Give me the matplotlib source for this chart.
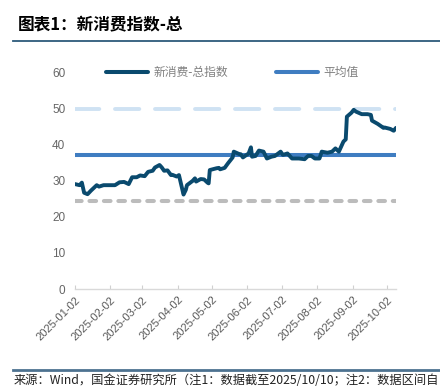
import matplotlib
matplotlib.use("Agg")
import matplotlib.pyplot as plt
import pandas as pd
from matplotlib.lines import Line2D

plt.rcParams['font.family'] = ['Noto Sans CJK SC', 'DejaVu Sans']
plt.rcParams['lines.scale_dashes'] = False

# ---- data ----
dates = ["2025-01-02", "2025-01-06", "2025-01-08", "2025-01-10", "2025-01-13", "2025-01-16",
         "2025-01-21", "2025-01-23", "2025-01-27", "2025-02-06", "2025-02-10", "2025-02-14",
         "2025-02-18", "2025-02-21", "2025-02-25", "2025-02-28", "2025-03-04", "2025-03-07",
         "2025-03-11", "2025-03-13", "2025-03-17", "2025-03-19", "2025-03-21", "2025-03-24",
         "2025-03-27", "2025-03-28", "2025-04-01", "2025-04-03", "2025-04-07", "2025-04-09",
         "2025-04-10", "2025-04-15", "2025-04-17", "2025-04-18", "2025-04-22", "2025-04-25",
         "2025-04-28", "2025-04-29", "2025-04-30", "2025-05-06", "2025-05-08", "2025-05-09",
         "2025-05-13", "2025-05-16", "2025-05-20", "2025-05-21", "2025-05-26", "2025-05-27",
         "2025-05-29", "2025-06-03", "2025-06-05", "2025-06-06", "2025-06-09", "2025-06-12",
         "2025-06-16", "2025-06-19", "2025-06-23", "2025-06-26", "2025-07-01", "2025-07-03",
         "2025-07-07", "2025-07-09", "2025-07-11", "2025-07-17", "2025-07-22", "2025-07-25",
         "2025-07-28", "2025-07-31", "2025-08-04", "2025-08-06", "2025-08-11", "2025-08-15",
         "2025-08-18", "2025-08-21", "2025-08-25", "2025-08-27", "2025-08-28", "2025-09-01",
         "2025-09-03", "2025-09-05", "2025-09-10", "2025-09-15", "2025-09-18", "2025-09-19",
         "2025-09-24", "2025-09-29", "2025-09-30", "2025-10-05", "2025-10-08", "2025-10-10"]
index_values = [29.1, 28.8, 29.5, 26.7, 26.3, 27.3,
                28.8, 28.4, 28.8, 28.8, 29.6, 29.7,
                29.1, 31.0, 31.0, 31.5, 31.3, 32.5,
                32.8, 33.7, 34.4, 33.7, 32.8, 32.9,
                31.6, 31.7, 31.2, 31.6, 26.2, 27.5,
                28.8, 30.0, 30.7, 29.8, 30.5, 30.4,
                29.5, 29.3, 33.0, 33.5, 33.6, 33.2,
                33.6, 34.9, 36.5, 38.1, 37.4, 37.4,
                36.5, 37.6, 39.3, 36.7, 36.9, 38.4,
                38.1, 36.2, 36.7, 36.9, 38.1, 37.2,
                37.6, 36.9, 36.2, 36.2, 36.0, 36.9,
                36.9, 36.2, 36.2, 38.1, 37.8, 38.1,
                39.0, 38.1, 40.9, 41.5, 47.8, 48.9,
                49.7, 49.2, 48.5, 48.5, 48.3, 46.7,
                45.8, 44.7, 44.8, 44.4, 43.9, 44.7]
mean_value = 37.1
upper_band = 49.8
lower_band = 24.3
tick_dates = ["2025-01-02", "2025-02-02", "2025-03-02", "2025-04-02", "2025-05-02",
              "2025-06-02", "2025-07-02", "2025-08-02", "2025-09-02", "2025-10-02"]
y_ticks = [0, 10, 20, 30, 40, 50, 60]
series_label = "新消费-总指数"
mean_label = "平均值"
title_text = "图表1：新消费指数-总"
source_text = "来源：Wind，国金证券研究所（注1：数据截至2025/10/10；注2：数据区间自"

x = pd.to_datetime(dates)
xt = pd.to_datetime(tick_dates)

fig = plt.figure(figsize=(4.4, 3.87), dpi=100)
ax = fig.add_axes([75/440, 1-289/387, 321/440, (289-72.7)/387])

c_line = '#0a4a6e'
c_mean = '#3f7dc1'
c_up = '#cfe2f3'
c_low = '#bcbcbc'

ax.axhline(upper_band, color=c_up, lw=2.8, dashes=(17.5, 11.3), dash_capstyle='round', zorder=1)
ax.axhline(lower_band, color=c_low, lw=2.9, dashes=(4.8, 5.6), dash_capstyle='round', zorder=1)
ax.axhline(mean_value, color=c_mean, lw=2.9, zorder=2)
ax.plot(x, index_values, color=c_line, lw=2.8, solid_joinstyle='round', solid_capstyle='round', zorder=3)

ax.set_xlim(x[0], x[-1])
ax.set_ylim(0, 60)
ax.set_yticks(y_ticks)
ax.set_xticks(xt)
ax.set_xticklabels([d.strftime('%Y-%m-%d') for d in xt], rotation=45, ha='right',
                   rotation_mode='anchor', fontsize=8, color='#595959',
                   family=['Liberation Sans', 'DejaVu Sans'])
for lab in ax.get_yticklabels():
    lab.set_fontsize(8.5)
    lab.set_color('#666666')
    lab.set_family(['Liberation Sans', 'DejaVu Sans'])
ax.tick_params(axis='y', length=0, pad=7)
ax.tick_params(axis='x', direction='in', length=3, width=0.8, color='#d0d0d0', pad=4)
for s in ['left', 'right', 'top']:
    ax.spines[s].set_visible(False)
ax.spines['bottom'].set_color('#d9d9d9')
ax.spines['bottom'].set_linewidth(1.0)

handles = [Line2D([0], [0], color=c_line, lw=2.9, solid_capstyle='round'),
           Line2D([0], [0], color=c_mean, lw=2.9, solid_capstyle='round')]
leg = ax.legend(handles, [series_label, mean_label], ncol=2, loc='center',
                bbox_to_anchor=(0.49, 1.0), frameon=False, fontsize=8.5,
                handlelength=3.6, handletextpad=0.45, columnspacing=4.0, borderpad=0)
for t in leg.get_texts():
    t.set_color('#808080')

fig.text(18/440, 1-25/387, title_text, fontsize=12, fontweight='bold', ha='left', va='center',
         color='black')
fig.add_artist(Line2D([13/440, 1.0], [1-41/387, 1-41/387], color='#2d5a7b', lw=1.3))
fig.add_artist(Line2D([13/440, 1.0], [1-370/387, 1-370/387], color='#4d7290', lw=2.0))
fig.text(14/440, 1-386.5/387, source_text, fontsize=8.8, ha='left', va='bottom', color='#222222')

fig.savefig('out.png', dpi=100)
